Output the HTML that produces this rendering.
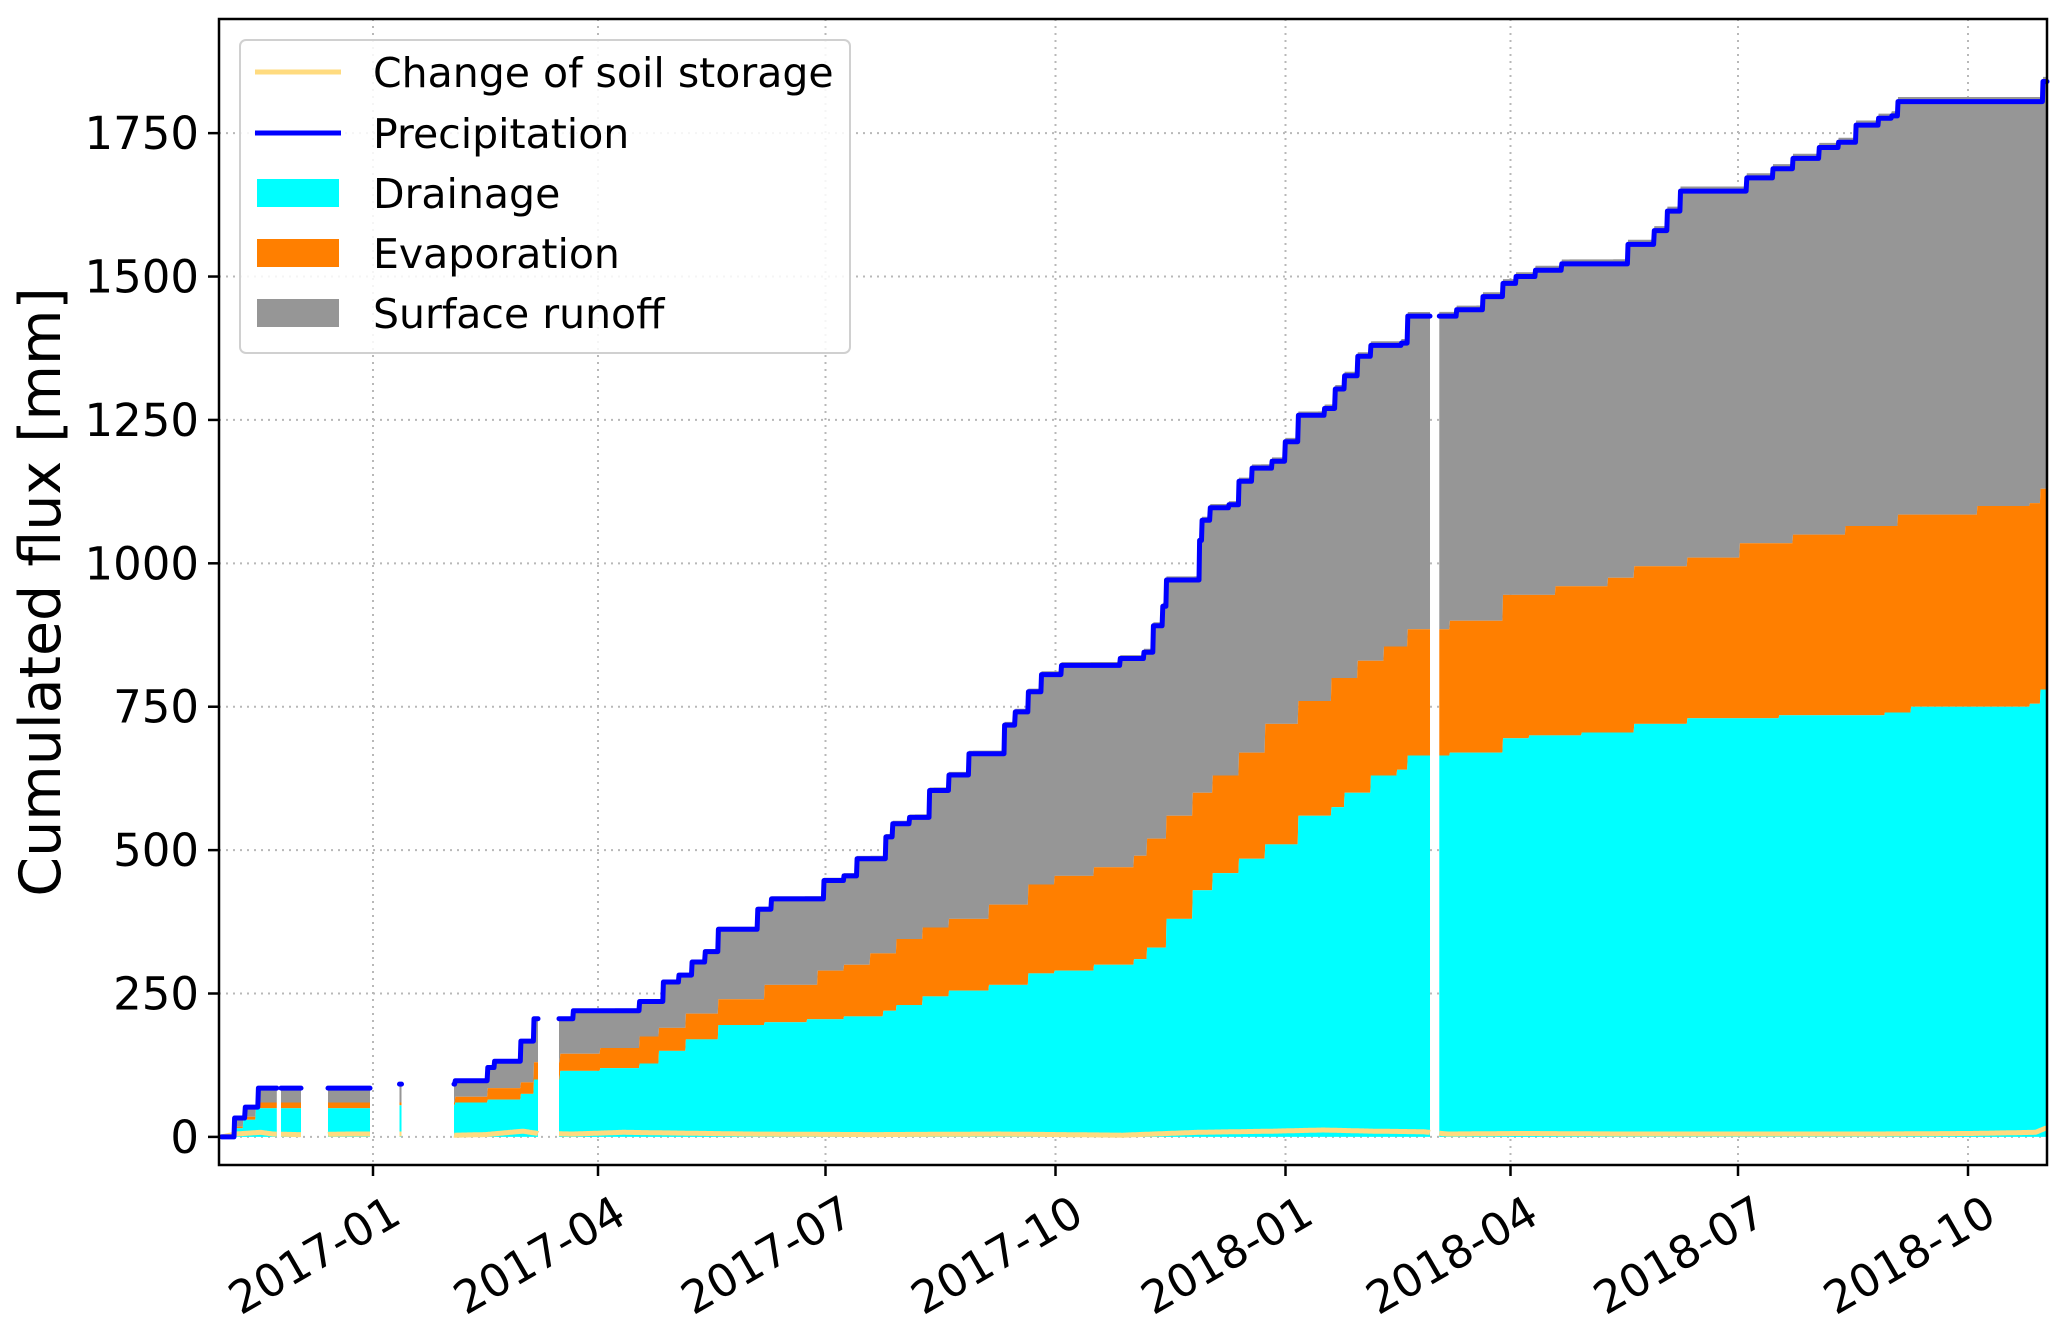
<!DOCTYPE html>
<html><head><meta charset="utf-8"><style>
html,body{margin:0;padding:0;background:#fff;}
svg{display:block;font-family:"DejaVu Sans","Liberation Sans",sans-serif;}
</style></head><body>
<svg id="chart" width="2067" height="1338" viewBox="0 0 2067 1338" xmlns="http://www.w3.org/2000/svg">
<g id="grid"></g>
<g id="areas"></g>
<g id="lines"></g>
<rect x="219" y="19" width="1828" height="1146" fill="none" stroke="#000" stroke-width="2.5"/>
<g id="axes"></g>
<text transform="translate(60,592) rotate(-90)" text-anchor="middle" font-size="57" fill="#000">Cumulated flux [mm]</text>
<g>
<rect x="240" y="40" width="610" height="313" rx="6" fill="#fff" fill-opacity="0.85" stroke="#d0d0d0" stroke-width="2"/>
<g><line x1="255" y1="72" x2="341" y2="72" stroke="#ffdb7f" stroke-width="5"/><text x="373" y="87" font-size="41">Change of soil storage</text></g>
<g><line x1="255" y1="133" x2="341" y2="133" stroke="#0000ff" stroke-width="5"/><text x="373" y="148" font-size="41">Precipitation</text></g>
<g><rect x="257" y="179" width="82" height="28" fill="#00ffff"/><text x="373" y="208" font-size="41">Drainage</text></g>
<g><rect x="257" y="239" width="82" height="28" fill="#ff7f00"/><text x="373" y="268" font-size="41">Evaporation</text></g>
<g><rect x="257" y="299" width="82" height="28" fill="#969696"/><text x="373" y="328" font-size="41">Surface runoff</text></g>
</g>
</svg>
<script>
// days since 2017-01-01
const yTicks = [0, 250, 500, 750, 1000, 1250, 1500, 1750];
const xTickLabels = ["2017-01","2017-04","2017-07","2017-10","2018-01","2018-04","2018-07","2018-10"];
const xTickDays = [0, 90, 181, 273, 365, 455, 546, 638];
const segments = [[-60.6,-38.5],[-36.8,-28.8],[-18,-1.2],[10.6,11.4],[32.4,66],[74.4,422.8],[426.5,669.6]];
const precipDays = [-60.6,-55.4,-51.1,-45.9,10.6,32.7,45.9,48.5,59,64.3,74.9,80.1,106.5,116,122.3,127.6,132.9,138.1,153.9,159.2,180.3,188.2,193.5,205.1,207.7,214.6,222.5,230.4,238.3,252.5,256.7,262,267.3,275.2,298.9,308.4,312.1,315.8,317.4,330.6,331.6,334.8,342.2,346.4,351.6,359.5,364.8,370.1,380.6,384.9,388.5,393.8,399.1,411.2,413.9,433.4,443.9,451.8,457.1,465,475.5,501.9,512.4,517.7,523,549.3,559.9,567.8,578.4,586.2,593.1,602.1,607.3,610,668];
const precipVals = [0,33,52,85,92,98,121,132,167,206,206,220,236,270,282,305,323,362,397,415,447,455,485,523,546,557,604,631,668,718,741,776,806,822,834,845,891,925,971,1040,1075,1097,1102,1143,1166,1178,1212,1258,1270,1304,1327,1361,1380,1384,1431,1442,1465,1488,1500,1511,1522,1556,1580,1614,1649,1672,1688,1706,1725,1734,1764,1776,1780,1805,1840];
const drainDays = [-60.6,-56,-52,-47,10.6,32.7,45.9,59,64.3,74.9,90.7,106.5,114.4,125,138.1,156.6,173.5,188.2,204,209.3,219.8,230.4,246.2,262,272.6,288.4,304.2,309.5,317.4,327.9,335.8,346.4,356.9,370.1,383.3,388.5,399.1,409.6,413.9,430.7,451.8,462.4,483.4,504.5,525.6,562.5,604.7,615.2,662.7,667];
const drainVals = [0,15,30,50,55,60,65,75,100,115,120,128,150,170,195,200,205,210,220,230,245,255,265,285,290,300,310,330,380,430,460,485,510,560,575,600,630,640,665,670,695,700,705,720,730,735,740,750,755,780];
const evapTopDays = [-60.6,-56,-52,-47,10.6,32.7,45.9,59,64.3,74.9,90.7,106.5,114.4,125,138.1,156.6,177.7,188.2,198.8,209.3,219.8,230.4,246.2,262,272.6,288.4,304.2,309.5,317.4,327.9,335.8,346.4,356.9,370.1,383.3,393.8,404.4,413.9,430.7,451.8,472.9,494,504.5,525.6,546.7,567.8,588.9,610,641.6,662.7,667];
const evapTopVals = [0,18,35,60,60,70,85,95,130,145,155,175,190,215,240,265,290,300,320,345,365,380,405,440,455,470,490,520,560,600,630,670,720,760,800,830,855,885,900,945,960,975,995,1010,1035,1050,1065,1085,1100,1105,1130];
const runoffSurplusDays = [-60.6, 0, 100, 300, 500, 669];
const runoffSurplusVals = [0, 2, 4, 6, 8, 8];
const soilDays = [-60.6,-55,-45,-40,-30,-10,11,33,45,60,66,80,100,150,200,250,300,330,360,380,400,420,430,460,500,550,600,640,665,669];
const soilVals = [0,5,8,5,4,5,5,3,4,10,6,5,8,5,4,5,3,8,10,12,10,9,5,6,5,5,5,6,8,15];

const svgNS = "http://www.w3.org/2000/svg";
const X0 = 219, X1 = 2047, Y0 = 19, Y1 = 1165;
const dMin = -61.6, dMax = 669.6, vMin = -49, vMax = 1949;
function xs(d){ return X0 + (d - dMin) / (dMax - dMin) * (X1 - X0); }
function ys(v){ return Y1 - (v - vMin) / (vMax - vMin) * (Y1 - Y0); }
function stepAt(days, vals, d){ let v = vals[0]; for (let i=0;i<days.length;i++){ if (days[i] <= d) v = vals[i]; else break; } return v; }
function linAt(days, vals, d){ if (d<=days[0]) return vals[0]; for (let i=1;i<days.length;i++){ if (d<=days[i]){ const t=(d-days[i-1])/(days[i]-days[i-1]); return vals[i-1]+t*(vals[i]-vals[i-1]); } } return vals[vals.length-1]; }
function mk(tag, attrs){ const e=document.createElementNS(svgNS,tag); for (const k in attrs) e.setAttribute(k, attrs[k]); return e; }
function samples(seg){ const a=[]; for (let d=seg[0]; d<seg[1]; d+=0.25) a.push(d); a.push(seg[1]); return a; }

const grid = document.getElementById('grid');
const axes = document.getElementById('axes');
yTicks.forEach(v => {
  const y = ys(v);
  const gl = mk('line',{x1:X0,x2:X1,y1:y,y2:y,stroke:'#b8b8b8','stroke-width':2,'stroke-dasharray':'2,5'});
  
  
  grid.appendChild(gl);
  const tk = mk('line',{x1:X0-11,x2:X0,y1:y,y2:y,stroke:'#000','stroke-width':2.5});
  
  
  axes.appendChild(tk);
  const tl = mk('text',{x:X0-20,y:y+16,'text-anchor':'end','font-size':45});
  
  
  tl.textContent = v; axes.appendChild(tl);
});
xTickDays.forEach((d,i) => {
  const x = xs(d);
  const gl = mk('line',{x1:x,x2:x,y1:Y0,y2:Y1,stroke:'#b8b8b8','stroke-width':2,'stroke-dasharray':'2,5'});
  
  
  grid.appendChild(gl);
  const tk = mk('line',{x1:x,x2:x,y1:Y1,y2:Y1+11,stroke:'#000','stroke-width':2.5});
  
  
  axes.appendChild(tk);
  const tl = mk('text',{'text-anchor':'end','font-size':45,transform:`translate(${x+14},${Y1+28}) rotate(-30)`});
  
  
  tl.setAttribute('dy','33');
  tl.textContent = xTickLabels[i]; axes.appendChild(tl);
});

const areas = document.getElementById('areas');
const lines = document.getElementById('lines');
function areaPath(ds, lowF, highF){
  let p=''; ds.forEach((d,i)=>{ p += (i?'L':'M') + xs(d).toFixed(1) + ',' + ys(highF(d)).toFixed(1); });
  for (let i=ds.length-1;i>=0;i--){ p += 'L' + xs(ds[i]).toFixed(1) + ',' + ys(lowF(ds[i])).toFixed(1); }
  return p+'Z';
}
const drainF = d => stepAt(drainDays, drainVals, d);
const evapF = d => Math.max(stepAt(evapTopDays, evapTopVals, d), drainF(d));
const precipF = d => stepAt(precipDays, precipVals, d);
const runoffF = d => Math.max(precipF(d) + linAt(runoffSurplusDays, runoffSurplusVals, d), evapF(d));
segments.forEach(seg => {
  const ds = samples(seg);
  const g = mk('path',{d:areaPath(ds, evapF, runoffF), fill:'#969696'});
  
  
  areas.appendChild(g);
  const o = mk('path',{d:areaPath(ds, drainF, evapF), fill:'#ff7f00'});
  
  
  areas.appendChild(o);
  const c = mk('path',{d:areaPath(ds, d=>0, drainF), fill:'#00ffff'});
  
  
  areas.appendChild(c);
  let sp=''; ds.forEach((d,i)=>{ sp += (i?'L':'M') + xs(d).toFixed(1)+','+ys(linAt(soilDays, soilVals, d)).toFixed(1); });
  const s = mk('path',{d:sp, fill:'none', stroke:'#ffdb7f','stroke-width':5,'stroke-linejoin':'round'});
  
  
  lines.appendChild(s);
  let pp=''; ds.forEach((d,i)=>{ pp += (i?'L':'M') + xs(d).toFixed(1)+','+ys(precipF(d)).toFixed(1); });
  const pl = mk('path',{d:pp, fill:'none', stroke:'#0000ff','stroke-width':5,'stroke-linejoin':'round','stroke-linecap':'round'});
  
  
  lines.appendChild(pl);
});
</script>
</body></html>
